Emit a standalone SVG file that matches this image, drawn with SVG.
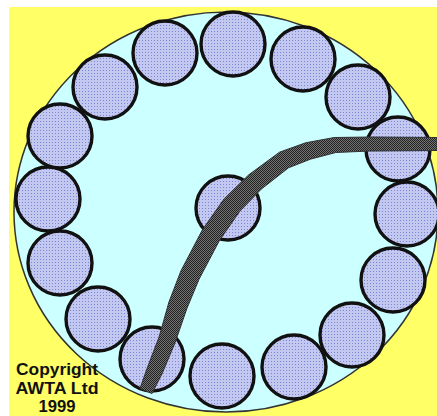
<svg xmlns="http://www.w3.org/2000/svg" width="437" height="416" viewBox="0 0 437 416">
  <defs>
    <pattern id="dots" width="3" height="3" patternUnits="userSpaceOnUse">
      <rect width="3" height="3" fill="#c3c8f0"/>
      <rect x="1" y="1" width="1" height="1" fill="#7d86d4"/>
    </pattern>
    <pattern id="check" width="2" height="2" patternUnits="userSpaceOnUse">
      <rect width="2" height="2" fill="#737373"/>
      <rect width="1" height="1" fill="#222"/>
      <rect x="1" y="1" width="1" height="1" fill="#222"/>
    </pattern>
    <style>
      .fibre { fill: url(#dots); stroke: #111; stroke-width: 3.4; }
      .label { font-family: "Liberation Sans", Arial, sans-serif; font-weight: bold; font-size: 16px; fill: #111; text-anchor: middle; }
    </style>
  </defs>

  <rect width="437" height="416" fill="#ffffff"/>
  <rect x="9" y="7" width="428" height="409" fill="#ffff66"/>

  <g id="yarn-cross-section">
    <ellipse cx="226" cy="212" rx="212" ry="200" fill="#ccffff" stroke="#333" stroke-width="1.5"/>
  </g>

  <g id="fibres">
    <g id="f1"><circle class="fibre" cx="233" cy="44" r="32"/></g>
    <g id="f2"><circle class="fibre" cx="303" cy="59" r="32"/></g>
    <g id="f3"><circle class="fibre" cx="358" cy="97" r="32"/></g>
    <g id="f4"><circle class="fibre" cx="398" cy="149" r="32"/></g>
    <g id="f5"><circle class="fibre" cx="407" cy="214" r="32"/></g>
    <g id="f6"><circle class="fibre" cx="393" cy="280" r="32"/></g>
    <g id="f7"><circle class="fibre" cx="352" cy="335" r="32"/></g>
    <g id="f8"><circle class="fibre" cx="294" cy="367" r="32"/></g>
    <g id="f9"><circle class="fibre" cx="222" cy="376" r="32"/></g>
    <g id="f10"><circle class="fibre" cx="152" cy="359" r="32"/></g>
    <g id="f11"><circle class="fibre" cx="98" cy="319" r="32"/></g>
    <g id="f12"><circle class="fibre" cx="60" cy="263" r="32"/></g>
    <g id="f13"><circle class="fibre" cx="48" cy="199" r="32"/></g>
    <g id="f14"><circle class="fibre" cx="60" cy="136" r="32"/></g>
    <g id="f15"><circle class="fibre" cx="105" cy="87" r="32"/></g>
    <g id="f16"><circle class="fibre" cx="165" cy="53" r="32"/></g>
    <g id="f-centre"><circle class="fibre" cx="228" cy="208" r="32"/></g>
  </g>

  <g id="connectors">
    <path id="migrating-fibre" fill="url(#check)" stroke="#333" stroke-width="1" stroke-linejoin="round"
      d="M140,388.4 L147.6,367 L159,337.2 L169,301.8 L181,270.7 L202.4,229.8 L224.3,198.6 L248.8,174.8 L279.5,152.2 L305.6,142.8 L334.2,137.5 L369.9,137 L437,137.5 L437,150.5 L370.1,151 L335.8,152.5 L310.4,159.2 L288.5,167.8 L261.2,189.2 L239.7,211.4 L219.6,240.2 L199,279.3 L187,308.2 L175,342.8 L162.4,373 L152,393.6 Z"/>
  </g>

  <g id="copyright">
    <text class="label" x="57" y="375" textLength="82" lengthAdjust="spacingAndGlyphs">Copyright</text>
    <text class="label" x="57" y="393.5" textLength="83" lengthAdjust="spacingAndGlyphs">AWTA Ltd</text>
    <text class="label" x="57" y="412" textLength="37" lengthAdjust="spacingAndGlyphs">1999</text>
  </g>
</svg>
